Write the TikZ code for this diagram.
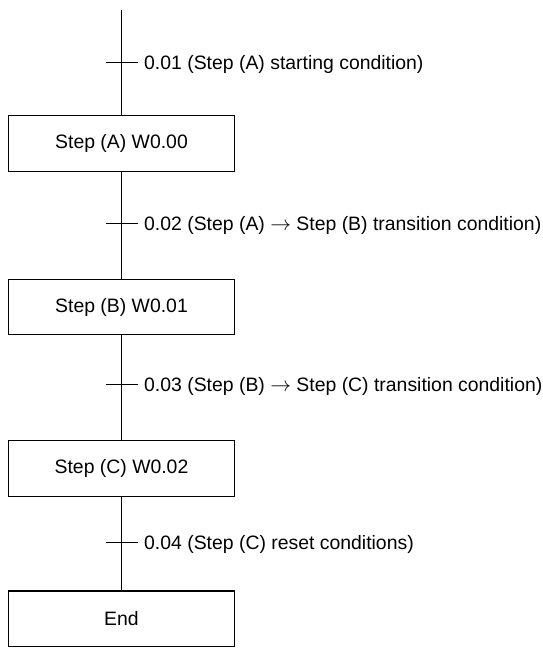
\documentclass[tikz,border=0pt]{standalone}
\usepackage{fontspec}
\setmainfont{Liberation Sans}
\begin{document}
\begin{tikzpicture}[x=1pt,y=1pt,
  stepbox/.style={draw, line width=1.1pt, minimum width=226.4pt, minimum height=55.5pt, inner sep=0pt, font=\fontsize{19.4}{22}\selectfont},
  cond/.style={anchor=base west, inner sep=0pt, font=\fontsize{19.4}{22}\selectfont},
  link/.style={line width=1.1pt}]
\useasboundingbox (0,0) rectangle (543,651);
\coordinate (top) at (121.5,641);
\node[stepbox] (A) at (121.5,507.5) {Step (A) W0.00};
\node[stepbox] (B) at (121.5,344) {Step (B) W0.01};
\node[stepbox] (C) at (121.5,182.6) {Step (C) W0.02};
\node[stepbox] (E) at (121.5,32.2) {End};
\coordinate (t1) at (121.5,588.7);
\coordinate (t2) at (121.5,427.7);
\coordinate (t3) at (121.5,266.7);
\coordinate (t4) at (121.5,108.3);
\draw[link] (top) -- (A.north);
\draw[link] (A.south) -- (B.north);
\draw[link] (B.south) -- (C.north);
\draw[link] (C.south) -- (E.north);
\foreach \t in {t1,t2,t3,t4}{\draw[link] (\t) ++(-16,0) -- ++(32,0);}
\node[cond] (l1) at ([shift={(22.5,-6.8)}]t1) {0.01 (Step (A) starting condition)};
\node[cond] (l2) at ([shift={(22.5,-6.8)}]t2) {0.02 (Step (A) $\rightarrow$ Step (B) transition condition)};
\node[cond] (l3) at ([shift={(22.5,-6.8)}]t3) {0.03 (Step (B) $\rightarrow$ Step (C) transition condition)};
\node[cond] (l4) at ([shift={(22.5,-6.8)}]t4) {0.04 (Step (C) reset conditions)};
\end{tikzpicture}
\end{document}
